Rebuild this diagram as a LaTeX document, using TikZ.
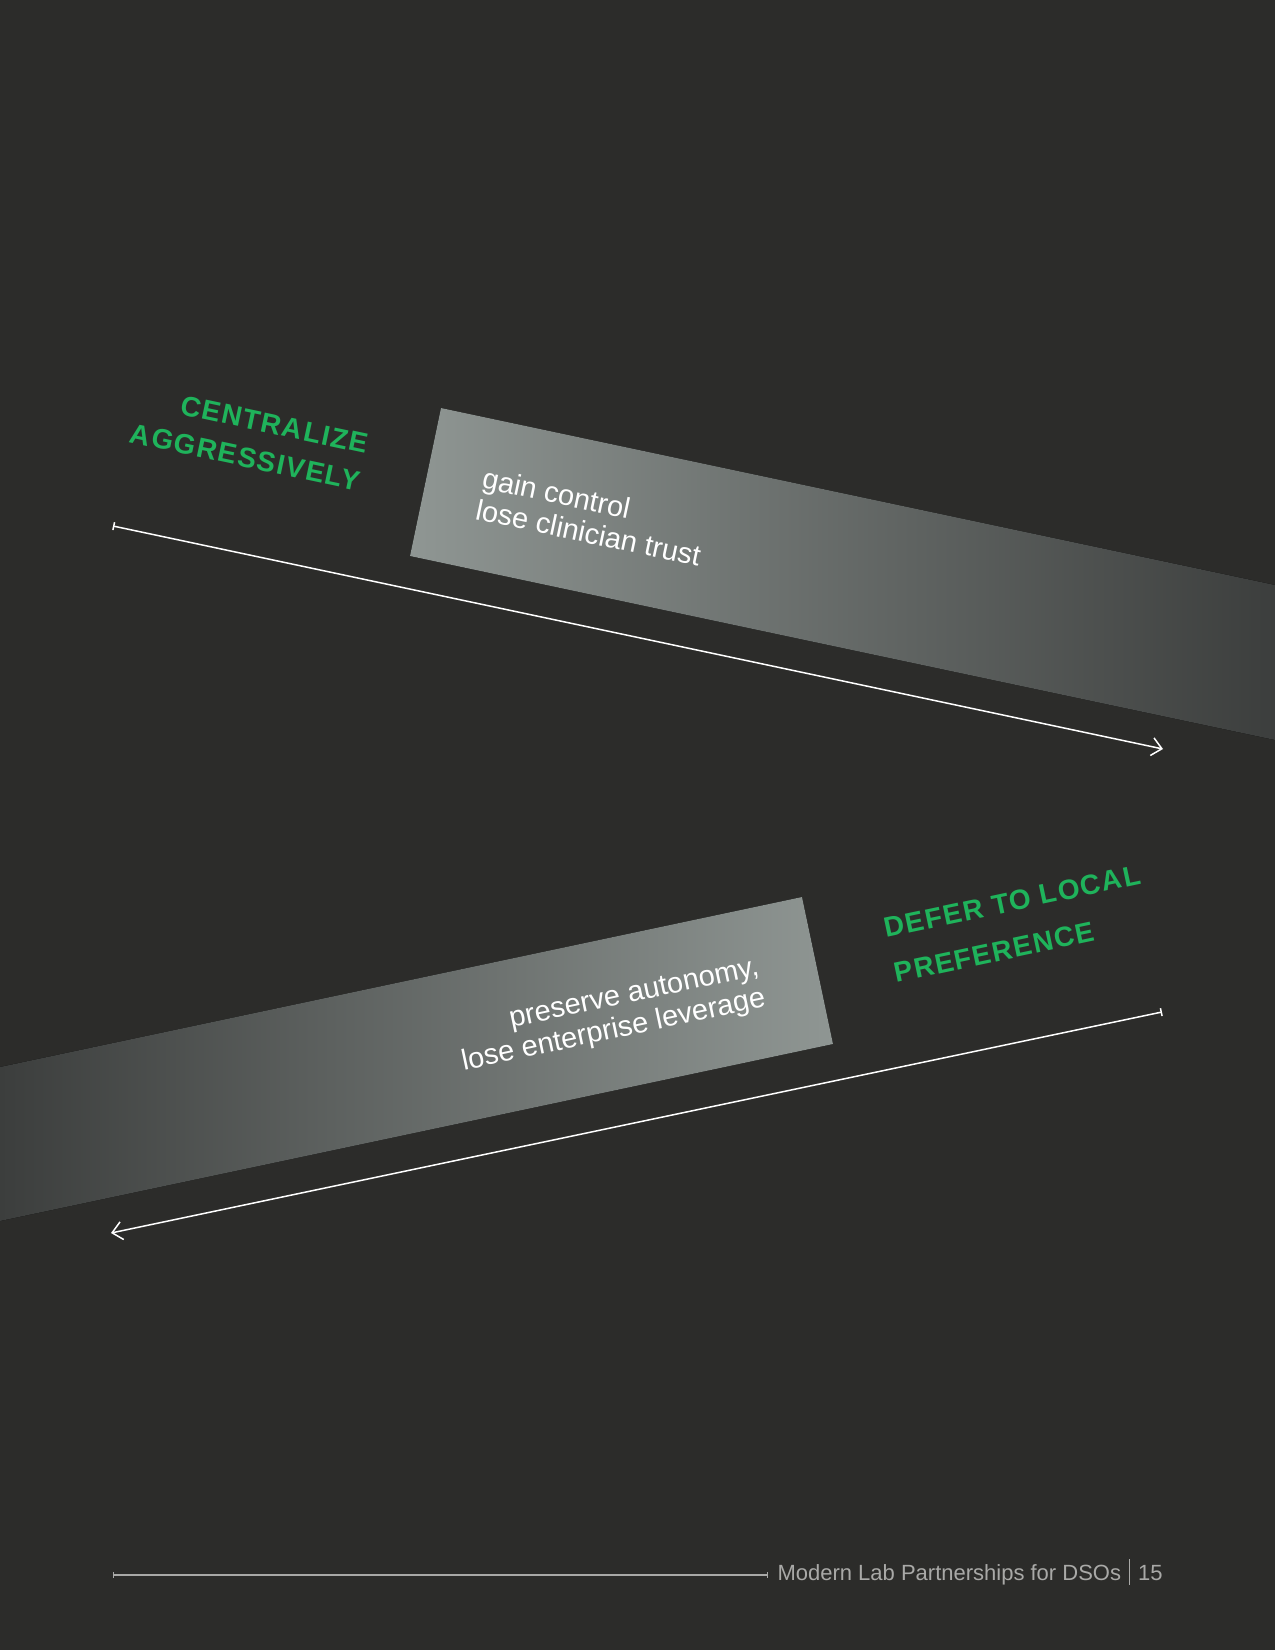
\documentclass[tikz,border=0pt]{standalone}
\usepackage{fontspec}
\setmainfont{Liberation Sans}
\newfontfamily\titlefont[LetterSpace=5]{Liberation Sans}
\usepackage{xcolor}
\usetikzlibrary{positioning,arrows.meta}
\definecolor{bg}{HTML}{2C2C2A}
\definecolor{tgreen}{HTML}{1FB35B}
\definecolor{bandlight}{HTML}{8F9693}
\definecolor{banddark}{HTML}{3C3E3D}
\definecolor{footgray}{HTML}{A9A9A7}
\begin{document}
\begin{tikzpicture}[x=0.5pt,y=-0.5pt,
  title/.style={text=tgreen,font=\titlefont\bfseries\fontsize{14pt}{19pt}\selectfont,inner sep=0pt},
  note/.style={text=white,font=\fontsize{14.5pt}{16pt}\selectfont,inner sep=0pt},
  arrowline/.style={draw=white,line width=0.75pt,arrows={Bar[width=4pt]-Straight Barb[length=5pt,width=9pt]}}]

	% page
	\fill[bg] (0,0) rectangle (1275,1650);
	\useasboundingbox (0,0) rectangle (1275,1650);

	% The bands
	\fill[left color=bandlight,right color=banddark] (441,408) -- (1275,585) -- (1275,740) -- (410,556) -- cycle;
	\fill[left color=banddark,right color=bandlight] (0,1067) -- (802,897) -- (833,1044) -- (0,1221) -- cycle;

	% Labels (anchored at the last line)
	\node [title,rotate=-12,anchor=base east,align=right] at (358,491) (central) {CENTRALIZE\\AGGRESSIVELY};
	\node [note,rotate=-12,anchor=base west,align=left] at (474,519) (gain) {gain control\\lose clinician trust};

	\node [title,rotate=12,anchor=base west,align=left,font=\titlefont\bfseries\fontsize{14pt}{23pt}\selectfont] at (896,983) (defer) {DEFER TO LOCAL\\PREFERENCE};
	\node [note,rotate=12,anchor=base east,align=right] at (767,1006) (keep) {preserve autonomy,\\lose enterprise leverage};

	% Arrows
	\coordinate (a1) at (113,526);
	\coordinate (b1) at (1163,749);
	\coordinate (a2) at (1162,1012);
	\coordinate (b2) at (111,1233);
	\draw[arrowline] (a1) -- (b1);
	\draw[arrowline] (a2) -- (b2);

	% Footer
	\coordinate (f1) at (113,1575);
	\coordinate (f2) at (768,1575);
	\draw[footgray,line width=0.6pt,arrows={Bar[width=3pt]-Bar[width=3pt]}] (f1) -- (f2);
	\node [text=footgray,font=\fontsize{11pt}{13pt}\selectfont,inner sep=0pt,anchor=base east] at (1163,1580) (foot) {Modern Lab Partnerships for DSOs\hspace{4pt}\rule[-2.5pt]{0.5pt}{13pt}\hspace{4pt}15};

\end{tikzpicture}
\end{document}
